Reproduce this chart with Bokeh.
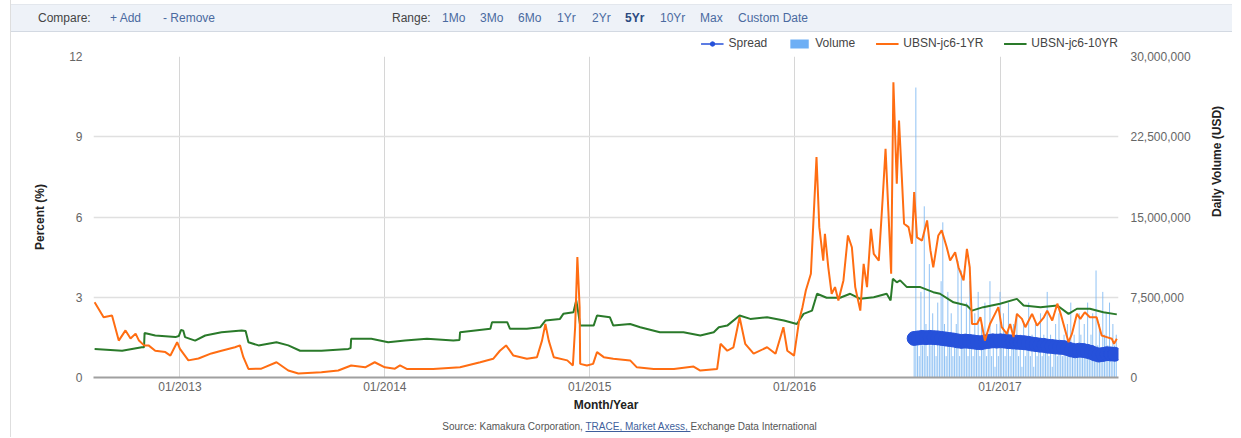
import math
import pandas as pd
from bokeh.plotting import figure
from bokeh.layouts import column
from bokeh.models import (Range1d, LinearAxis, FixedTicker, DatetimeTickFormatter,
                          NumeralTickFormatter, Legend, LegendItem, ColumnDataSource, Div)
from bokeh.embed import file_html
from bokeh.resources import INLINE

FONT = "Liberation Sans"

# ---------------- data ----------------
x_start, x_end = "2012-07-31", "2017-07-31"
x_ticks = ["2013-01-01", "2014-01-01", "2015-01-01", "2016-01-01", "2017-01-01"]
left_ticks = [0, 3, 6, 9, 12]
right_ticks = [0, 7_500_000, 15_000_000, 22_500_000, 30_000_000]
legend_labels = ["Spread", "Volume", "UBSN-jc6-1YR", "UBSN-jc6-10YR"]

# UBSN-jc6-1YR (percent)
y1_dates = [
    "2012-08-02", "2012-08-18", "2012-09-02", "2012-09-14", "2012-09-26", "2012-10-05", "2012-10-14", "2012-10-20", "2012-10-29", "2012-11-06",
    "2012-11-18", "2012-12-06", "2012-12-15", "2012-12-27", "2013-01-01", "2013-01-16", "2013-02-03", "2013-02-26", "2013-03-16", "2013-04-09",
    "2013-04-18", "2013-04-24", "2013-05-03", "2013-05-26", "2013-06-22", "2013-07-13", "2013-07-31", "2013-09-10", "2013-10-10", "2013-11-02",
    "2013-11-27", "2013-12-14", "2014-01-01", "2014-01-19", "2014-01-28", "2014-02-09", "2014-03-28", "2014-05-15", "2014-06-20", "2014-07-13",
    "2014-07-25", "2014-08-05", "2014-08-18", "2014-09-11", "2014-09-29", "2014-10-08", "2014-10-14", "2014-10-20", "2014-10-29", "2014-11-22",
    "2014-12-02", "2014-12-06", "2014-12-10", "2014-12-14", "2014-12-15", "2014-12-27", "2015-01-07", "2015-01-14", "2015-01-26", "2015-02-12",
    "2015-03-14", "2015-03-26", "2015-04-25", "2015-05-31", "2015-07-05", "2015-07-17", "2015-08-16", "2015-08-22", "2015-09-03", "2015-09-14",
    "2015-09-25", "2015-10-05", "2015-10-20", "2015-11-13", "2015-11-28", "2015-12-12", "2015-12-19", "2015-12-31", "2016-01-09", "2016-01-15",
    "2016-01-21", "2016-01-30", "2016-02-03", "2016-02-09", "2016-02-14", "2016-02-21", "2016-02-24", "2016-03-01", "2016-03-07", "2016-03-13",
    "2016-03-19", "2016-03-28", "2016-04-05", "2016-04-12", "2016-04-18", "2016-04-27", "2016-05-03", "2016-05-09", "2016-05-16", "2016-05-21",
    "2016-05-30", "2016-06-06", "2016-06-11", "2016-06-16", "2016-06-21", "2016-06-25", "2016-07-01", "2016-07-05", "2016-07-10", "2016-07-14",
    "2016-07-22", "2016-07-28", "2016-08-01", "2016-08-06", "2016-08-15", "2016-08-24", "2016-08-30", "2016-09-04", "2016-09-13", "2016-09-19",
    "2016-09-28", "2016-10-04", "2016-10-13", "2016-10-19", "2016-10-28", "2016-11-03", "2016-11-08", "2016-11-12", "2016-11-21", "2016-11-27",
    "2016-12-05", "2016-12-14", "2016-12-23", "2016-12-29", "2017-01-04", "2017-01-13", "2017-01-19", "2017-01-25", "2017-01-31", "2017-02-09",
    "2017-02-15", "2017-02-27", "2017-03-08", "2017-03-20", "2017-03-26", "2017-04-04", "2017-04-13", "2017-04-19", "2017-04-28", "2017-05-03",
    "2017-05-09", "2017-05-18", "2017-05-24", "2017-06-01", "2017-06-10", "2017-06-22", "2017-07-01", "2017-07-10", "2017-07-19", "2017-07-23",
    "2017-07-28"]
y1_vals = [
    2.81, 2.25, 2.32, 1.38, 1.76, 1.46, 1.64, 1.38, 1.20, 1.20,
    1.00, 0.95, 0.82, 1.32, 1.07, 0.64, 0.71, 0.90, 1.00, 1.13,
    1.20, 0.76, 0.32, 0.33, 0.57, 0.26, 0.15, 0.20, 0.26, 0.45,
    0.38, 0.57, 0.38, 0.33, 0.45, 0.32, 0.32, 0.38, 0.57, 0.70,
    1.00, 1.20, 0.82, 0.70, 0.76, 1.38, 2.00, 1.38, 0.76, 0.64,
    0.45, 1.88, 4.50, 2.63, 0.51, 0.45, 0.51, 0.95, 0.76, 0.70,
    0.64, 0.38, 0.32, 0.32, 0.41, 0.26, 0.32, 1.26, 1.00, 1.13,
    2.25, 1.26, 0.89, 1.13, 0.89, 1.88, 1.00, 0.82, 2.13, 2.63,
    3.25, 3.88, 5.62, 8.24, 5.62, 4.37, 5.37, 4.12, 3.13, 3.38,
    2.88, 3.63, 5.31, 4.87, 3.38, 2.50, 4.25, 3.38, 5.56, 4.62,
    4.37, 6.74, 8.55, 6.24, 3.88, 11.04, 7.24, 9.61, 7.49, 5.75,
    5.62, 5.00, 6.93, 5.24, 5.12, 5.87, 4.75, 4.12, 5.31, 5.50,
    4.87, 4.37, 4.68, 4.12, 3.63, 4.81, 4.12, 2.00, 2.00, 2.25,
    1.38, 2.00, 2.38, 2.63, 1.88, 1.63, 2.00, 1.51, 2.38, 2.19,
    1.88, 2.38, 1.94, 2.25, 2.50, 2.13, 2.76, 2.38, 1.69, 1.32,
    1.63, 2.38, 2.19, 2.44, 2.25, 2.25, 1.57, 1.51, 1.45, 1.26,
    1.45]

# UBSN-jc6-10YR (percent)
y10_dates = [
    "2012-08-02", "2012-09-20", "2012-10-25", "2012-10-29", "2012-10-30", "2012-11-18", "2012-12-24", "2012-12-30", "2013-01-03", "2013-01-07",
    "2013-01-10", "2013-01-28", "2013-02-15", "2013-03-16", "2013-04-21", "2013-04-28", "2013-05-03", "2013-05-21", "2013-06-22", "2013-07-13",
    "2013-08-03", "2013-09-10", "2013-10-28", "2013-11-01", "2013-11-02", "2013-12-08", "2014-01-07", "2014-02-06", "2014-03-17", "2014-05-03",
    "2014-05-14", "2014-05-15", "2014-07-08", "2014-07-11", "2014-08-07", "2014-08-12", "2014-09-11", "2014-10-05", "2014-10-14", "2014-11-09",
    "2014-11-15", "2014-12-03", "2014-12-08", "2014-12-12", "2014-12-15", "2015-01-08", "2015-01-14", "2015-02-06", "2015-02-12", "2015-03-14",
    "2015-04-01", "2015-05-06", "2015-06-17", "2015-07-17", "2015-08-10", "2015-08-19", "2015-09-03", "2015-09-25", "2015-10-14", "2015-11-13",
    "2015-12-13", "2016-01-05", "2016-01-17", "2016-02-01", "2016-02-10", "2016-02-27", "2016-03-22", "2016-04-09", "2016-04-27", "2016-05-21",
    "2016-06-13", "2016-06-20", "2016-06-24", "2016-07-01", "2016-07-07", "2016-07-19", "2016-08-12", "2016-09-04", "2016-09-16", "2016-10-10",
    "2016-11-03", "2016-11-12", "2016-12-02", "2017-01-01", "2017-01-31", "2017-02-12", "2017-03-14", "2017-04-13", "2017-05-03", "2017-05-18",
    "2017-06-10", "2017-07-04", "2017-07-28"]
y10_vals = [
    1.07, 1.00, 1.13, 1.13, 1.66, 1.57, 1.51, 1.55, 1.78, 1.75,
    1.51, 1.38, 1.57, 1.69, 1.76, 1.74, 1.32, 1.20, 1.32, 1.20,
    1.00, 1.00, 1.07, 1.10, 1.45, 1.45, 1.32, 1.38, 1.45, 1.38,
    1.40, 1.69, 1.82, 2.07, 2.07, 1.82, 1.82, 1.88, 2.13, 2.19,
    2.38, 2.44, 2.88, 2.38, 1.94, 1.94, 2.32, 2.25, 1.94, 2.00,
    1.88, 1.69, 1.69, 1.57, 1.69, 1.88, 1.94, 2.32, 2.19, 2.25,
    2.13, 2.00, 2.38, 2.50, 3.13, 2.98, 2.98, 3.13, 2.94, 3.00,
    3.13, 2.88, 3.69, 3.56, 3.63, 3.38, 3.38, 3.19, 3.13, 2.81,
    2.69, 2.50, 2.63, 2.76, 2.94, 2.69, 2.63, 2.69, 2.38, 2.57,
    2.57, 2.44, 2.36]

# Spread (percent), weekly from 2016-08-01
spread_start = "2016-08-01"
spread_vals = [
    1.46, 1.48, 1.50, 1.49, 1.50,
    1.49, 1.48, 1.46, 1.44,
    1.42, 1.40, 1.37, 1.35, 1.36,
    1.35, 1.33, 1.31, 1.30,
    1.33, 1.35, 1.37, 1.36,
    1.37, 1.36, 1.34, 1.33, 1.32,
    1.31, 1.30, 1.28, 1.25,
    1.23, 1.21, 1.20, 1.17,
    1.16, 1.14, 1.13, 1.12, 1.08,
    1.03, 1.00, 1.02, 1.01,
    0.98, 0.94, 0.88, 0.84,
    0.86, 0.89, 0.88, 0.87]

# Daily volume (million USD), every 3 days from 2016-08-01
volume_start = "2016-08-01"
volume_musd = [
    3, 27.1, 4, 2, 8, 3,
    16, 5, 2, 10.6, 3, 6,
    4, 2, 7, 3, 9, 14.5,
    5, 2, 8, 3, 6, 2,
    3, 5, 10.9, 2, 10, 4,
    3, 7, 2, 9, 4, 2,
    6, 3, 8, 2, 5, 3,
    7, 2, 4, 9, 2, 3,
    1, 5, 2, 8, 3, 6,
    2, 4, 7, 2, 3, 5,
    3, 6, 2, 4, 1, 5,
    2, 3, 7, 2, 4, 1,
    5, 2, 3, 6, 2, 4,
    3, 8, 2, 4, 1, 3,
    5, 2, 6, 3, 2, 4,
    2, 5, 3, 7, 2, 4,
    3, 2, 6, 4, 2, 5,
    3, 7, 2, 4, 6, 2,
    10, 3, 5, 2, 8, 4,
    6, 3, 7, 2, 5, 3, 4]

bar_labels = ["Compare:", "+ Add", "- Remove", "Range:", "1Mo", "3Mo", "6Mo",
              "1Yr", "2Yr", "5Yr", "10Yr", "Max", "Custom Date"]
source_parts = ["Source: Kamakura Corporation, ", "TRACE, Market Axess, ",
                "Exchange Data International"]

# ---------------- styles / layout ----------------
ORANGE = "#ff6d12"
GREEN = "#2a7a2a"
BLUE = "#2651da"
VOL = "#7db7f2"
TICK_COL = "#666666"
W = 1229                      # content width (page x 11 .. 1240)
TOP_H, LEG_H, MAIN_H, SRC_H = 32, 18, 365, 22
BL, BR, BT, BB = 82, 122, 6, 38
CSS_FONT = "'Liberation Sans', Arial, sans-serif"

# ---------------- toolbar strip ----------------
bar_x = [27, 99, 152, 381, 431, 469, 507, 546, 581, 614, 649, 689, 727]
bar_col = ["#444444", "#4a6aa0", "#4a6aa0", "#444444"] + ["#4a6aa0"] * 5 + ["#2b4a80"] + ["#4a6aa0"] * 3
bar_w = ["normal"] * 9 + ["bold"] + ["normal"] * 3
spans = "".join(
    f'<span style="position:absolute;left:{x}px;top:6px;color:{c};font-weight:{w};white-space:nowrap">{t}</span>'
    for t, x, c, w in zip(bar_labels, bar_x, bar_col, bar_w))
top_html = (f'<div style="position:relative;box-sizing:border-box;width:{W - 8}px;height:28px;margin-top:4px;'
            f'background:#eef2f8;border-top:1px solid #e3e7ed;border-bottom:1px solid #d3d9e2;'
            f'font-family:{CSS_FONT};font-size:12px;line-height:14px;">{spans}</div>')
top_div = Div(text=top_html, width=W, height=TOP_H, margin=0)

# ---------------- legend strip ----------------
lg = figure(width=W, height=LEG_H, x_range=Range1d(0, 1), y_range=Range1d(0, 1),
            output_backend="svg", toolbar_location=None,
            x_axis_location=None, y_axis_location=None,
            min_border_left=BL, min_border_right=BR, min_border_top=0, min_border_bottom=0,
            margin=0)
lg.grid.visible = False
lg.outline_line_color = None
# legend-sample renderers: one point each, kept outside the visible range
leg_line = lg.line(x=[5, 6], y=[5, 5], line_color=BLUE, line_width=1.5)
leg_dot = lg.scatter(x=[5], y=[5], size=8, fill_color=BLUE, line_color=BLUE)
leg_vol = lg.vbar(x=[5], top=[5], bottom=[4], width=1, fill_color="#6eaff5", line_color=None)
leg_1 = lg.line(x=[5, 6], y=[5, 5], line_color=ORANGE, line_width=2)
leg_10 = lg.line(x=[5, 6], y=[5, 5], line_color=GREEN, line_width=2)
legend = Legend(items=[
    LegendItem(label=legend_labels[0], renderers=[leg_line, leg_dot]),
    LegendItem(label=legend_labels[1], renderers=[leg_vol]),
    LegendItem(label=legend_labels[2], renderers=[leg_1]),
    LegendItem(label=legend_labels[3], renderers=[leg_10]),
], orientation="horizontal", location="bottom_right", padding=0, margin=0,
    spacing=20, glyph_width=23, glyph_height=11, label_height=14, label_standoff=5,
    label_text_font=FONT, label_text_font_size="12px", label_text_color="#444444",
    border_line_color=None, background_fill_alpha=0)
lg.add_layout(legend)

# ---------------- main chart ----------------
p = figure(width=W, height=MAIN_H, x_axis_type="datetime",
           x_range=Range1d(pd.Timestamp(x_start), pd.Timestamp(x_end)),
           y_range=Range1d(0, 12), output_backend="svg", toolbar_location=None,
           min_border_left=BL, min_border_right=BR, min_border_top=BT, min_border_bottom=BB,
           margin=0)
p.extra_y_ranges = {"vol": Range1d(0, 30_000_000)}
p.outline_line_color = None

vol_dates = pd.date_range(volume_start, periods=len(volume_musd), freq="3D")
vol_src = ColumnDataSource(dict(x=vol_dates, top=[v * 1e6 for v in volume_musd],
                                zero=[0] * len(volume_musd)))
p.segment(x0="x", y0="zero", x1="x", y1="top", source=vol_src, y_range_name="vol",
          line_color=VOL, line_width=1, line_alpha=0.85)

spread_dates = pd.date_range(spread_start, periods=len(spread_vals), freq="7D")
p.line(spread_dates, spread_vals, line_color=BLUE, line_width=1.5)
p.scatter(spread_dates, spread_vals, size=14, fill_color=BLUE, line_color=BLUE)

p.line(pd.to_datetime(y10_dates), y10_vals, line_color=GREEN, line_width=2)
p.line(pd.to_datetime(y1_dates), y1_vals, line_color=ORANGE, line_width=2)

p.xgrid.ticker = FixedTicker(ticks=[pd.Timestamp(t).timestamp() * 1000 for t in x_ticks])
p.xgrid.grid_line_color = "#d6d6d6"
p.xgrid.grid_line_width = 1
p.ygrid.ticker = FixedTicker(ticks=left_ticks)
p.ygrid.grid_line_color = "#e0e0e0"
p.ygrid.grid_line_width = 1.5

xa = p.xaxis[0]
xa.ticker = FixedTicker(ticks=[pd.Timestamp(t).timestamp() * 1000 for t in x_ticks])
xa.formatter = DatetimeTickFormatter(years="%m/%Y", months="%m/%Y", days="%m/%Y",
                                     hours="%m/%Y", minutes="%m/%Y")
xa.axis_label = "Month/Year"
xa.axis_line_color = "#a0a0a0"
xa.axis_line_width = 2
xa.major_tick_line_color = None
xa.minor_tick_line_color = None
xa.major_tick_out = 0
xa.major_label_standoff = 2
xa.axis_label_standoff = 1

ya = p.yaxis[0]
ya.ticker = FixedTicker(ticks=left_ticks)
ya.axis_label = "Percent (%)"
ya.axis_line_color = None
ya.major_tick_line_color = None
ya.minor_tick_line_color = None
ya.major_tick_out = 0
ya.major_label_standoff = 11
ya.axis_label_standoff = 19

ra = LinearAxis(y_range_name="vol", ticker=FixedTicker(ticks=right_ticks),
                formatter=NumeralTickFormatter(format="0,0"), axis_label="Daily Volume (USD)")
ra.axis_line_color = None
ra.major_tick_line_color = None
ra.minor_tick_line_color = None
ra.major_tick_out = 0
ra.major_label_standoff = 12
ra.axis_label_standoff = 23
ra.axis_label_orientation = math.pi / 2
p.add_layout(ra, "right")

for ax in (xa, ya, ra):
    ax.major_label_text_font = FONT
    ax.major_label_text_font_size = "12px"
    ax.major_label_text_color = TICK_COL
    ax.axis_label_text_font = FONT
    ax.axis_label_text_font_size = "12px"
    ax.axis_label_text_font_style = "bold"
    ax.axis_label_text_color = "#222222"

# ---------------- source line ----------------
src_html = (f'<div style="width:{W}px;height:{SRC_H}px;box-sizing:border-box;padding:6px 0 0 8px;'
            f'text-align:center;font-family:{CSS_FONT};font-size:10px;line-height:12px;color:#555555;'
            f'white-space:nowrap">{source_parts[0]}'
            f'<span style="color:#3f5f9c;text-decoration:underline">{source_parts[1]}</span>'
            f'{source_parts[2]}</div>')
src_div = Div(text=src_html, width=W, height=SRC_H, margin=0)

layout = column(top_div, lg, p, src_div, spacing=0, margin=(0, 0, 0, 10),
                styles={"border-left": "1px solid #dedede"})
open("out.html", "w").write(file_html(layout, INLINE))
